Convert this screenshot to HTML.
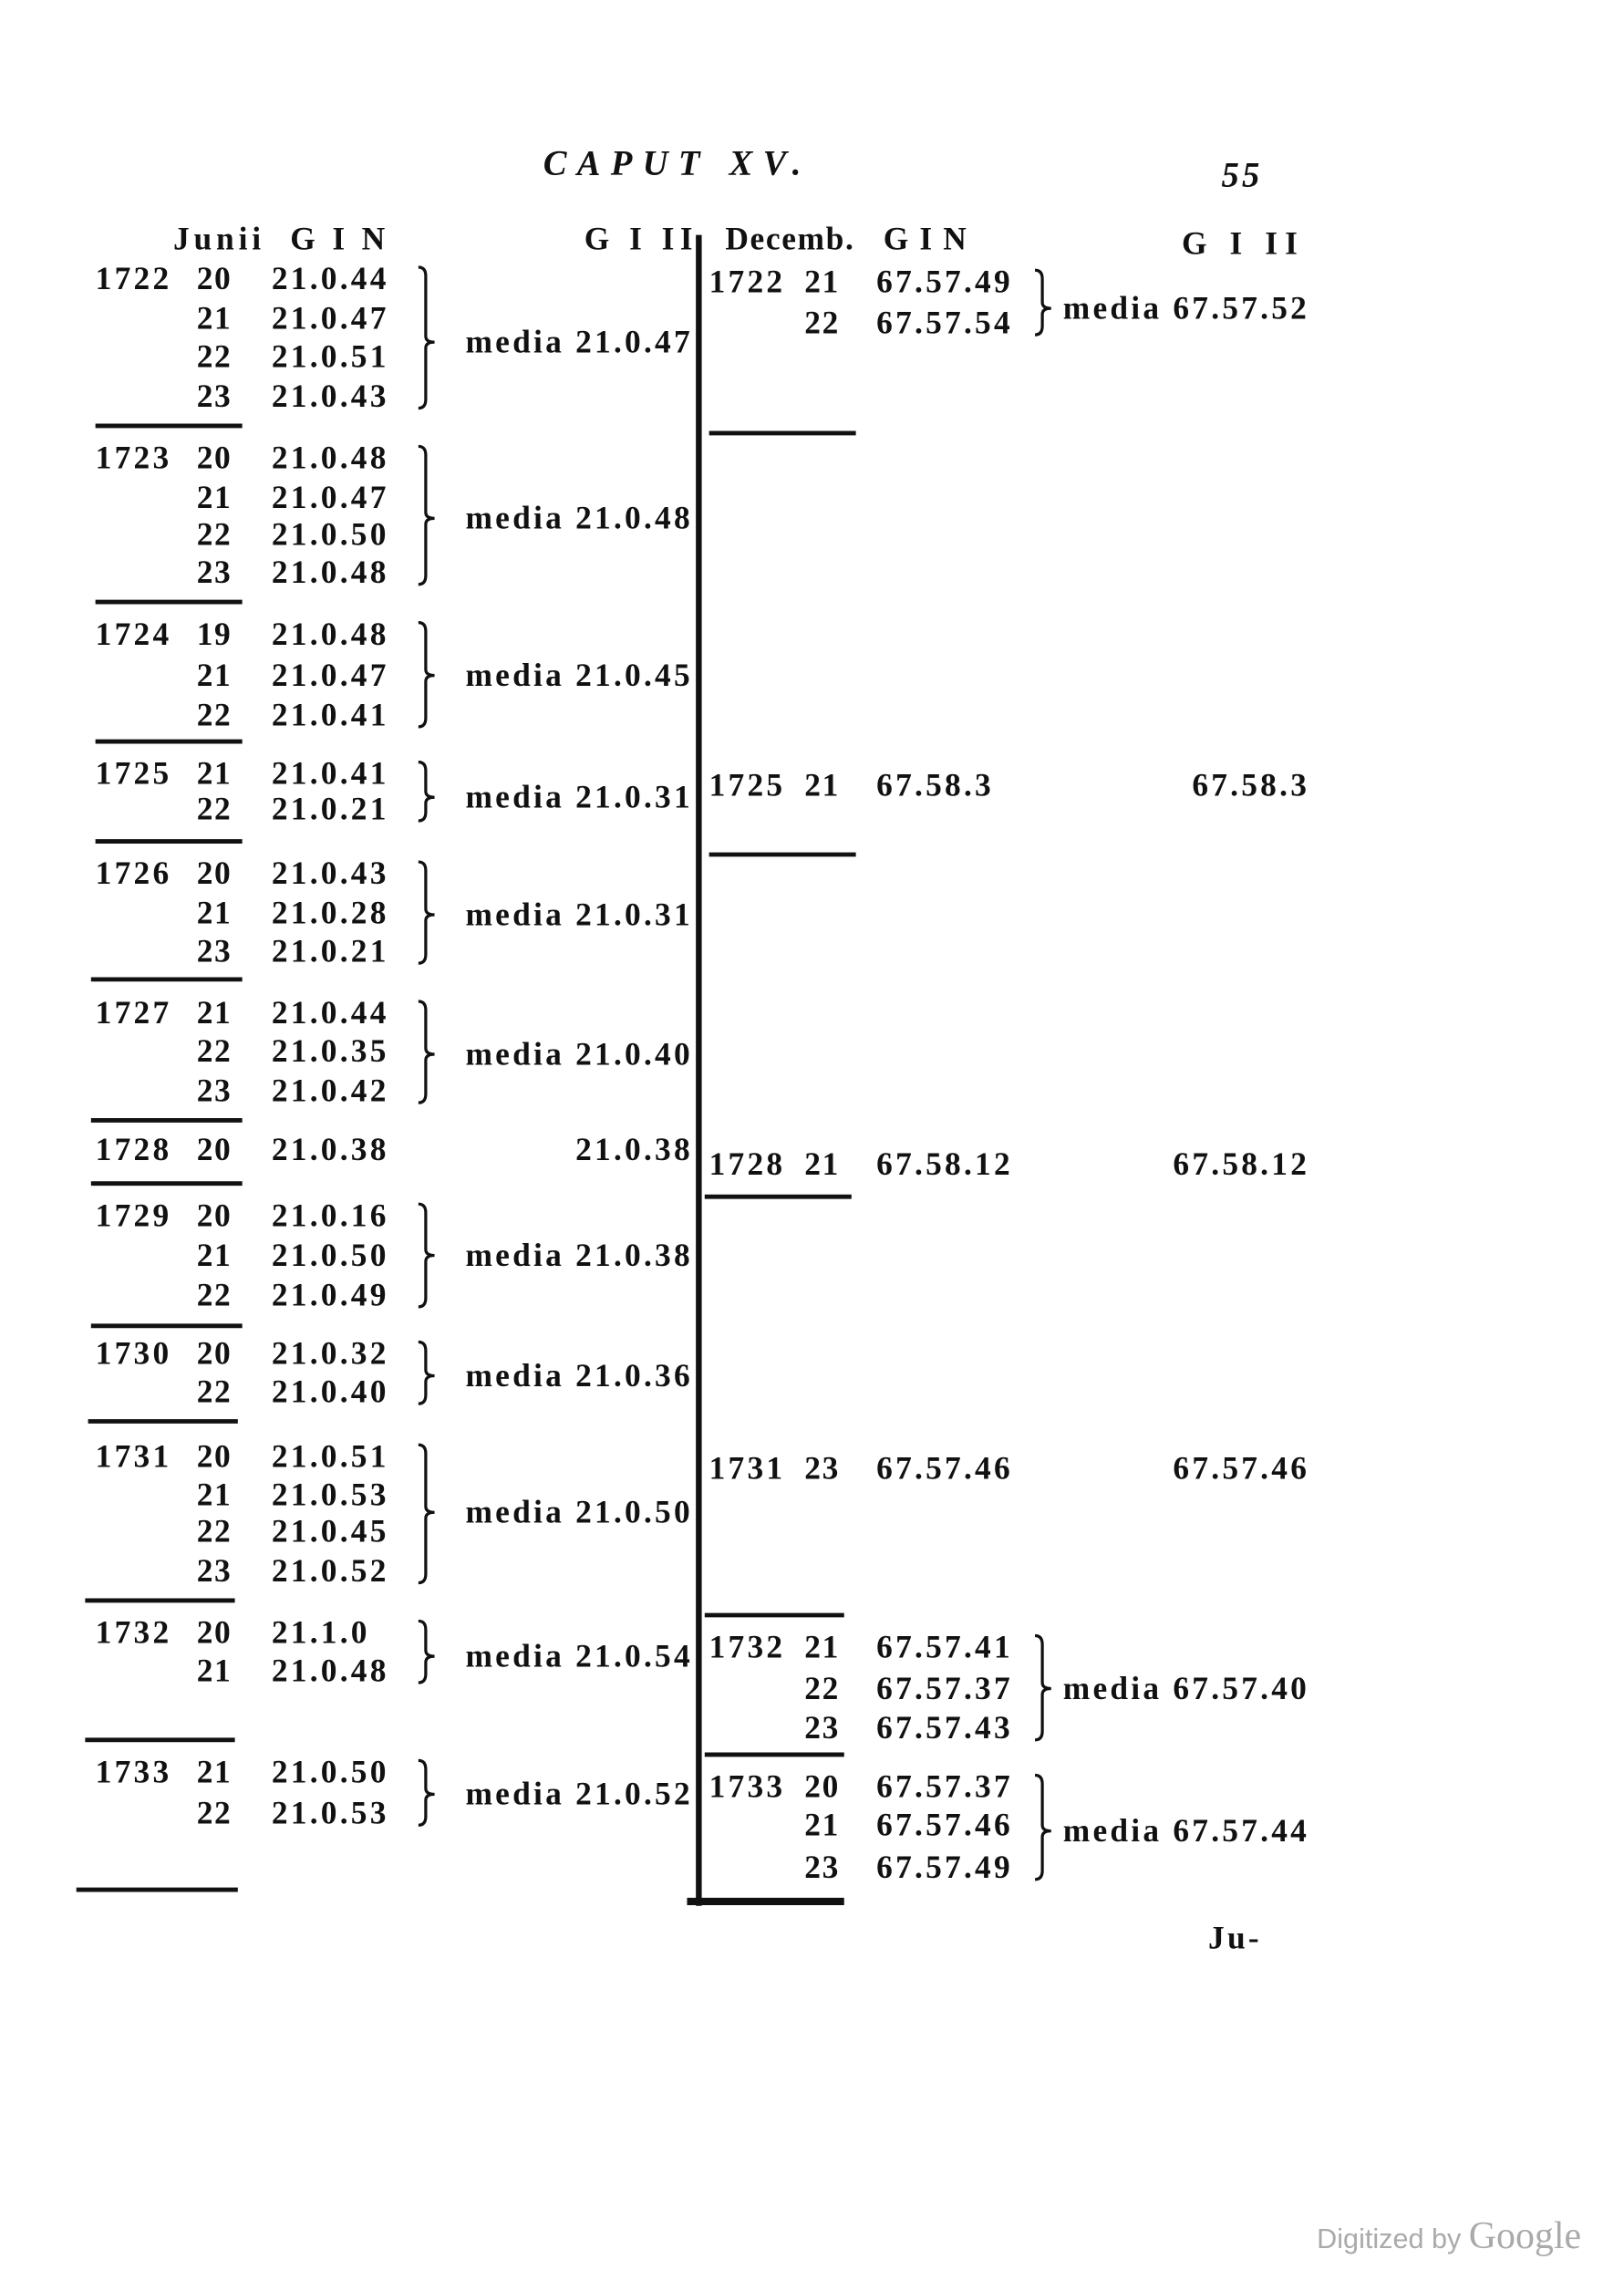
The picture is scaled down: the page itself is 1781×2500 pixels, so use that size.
<!DOCTYPE html>
<html><head><meta charset="utf-8"><style>
html,body{margin:0;padding:0;background:#fff;}
body{width:1781px;height:2500px;overflow:hidden;position:relative;}
#c{position:absolute;left:0;top:0;width:1106px;height:1553px;transform:scale(1.61);transform-origin:0 0;font-family:"Liberation Serif",serif;color:#111;}
.t{position:absolute;font-size:22px;line-height:24px;white-space:nowrap;font-weight:bold;letter-spacing:2px;}
.r{text-align:right;}
svg{position:absolute;left:0;top:0;}
</style></head><body><div id="c">
<div class="t" style="left:370px;top:100px;font-style:italic;font-size:24px;letter-spacing:7px">CAPUT XV.</div>
<div class="t" style="left:832px;top:108px;font-style:italic;font-size:24px">55</div>

<div class="t" style="left:118px;top:151px;letter-spacing:3px">Junii&nbsp; G I N</div>
<div class="t" style="left:398px;top:151px;letter-spacing:4px">G I II</div>
<div class="t" style="left:494px;top:151px;letter-spacing:1px">Decemb.&nbsp;&nbsp; G I N</div>
<div class="t" style="left:805px;top:154px;letter-spacing:5px">G I II</div>

<div id="rows"></div>

<svg width="1106" height="1553" viewBox="0 0 1106 1553">
<g stroke="#111" fill="none">
<line x1="476" y1="160" x2="476" y2="1298" stroke-width="4"/>
<line x1="468" y1="1295" x2="575" y2="1295" stroke-width="5"/>
<g stroke-width="3">
<line x1="65" y1="290" x2="165" y2="290"/><line x1="65" y1="410" x2="165" y2="410"/>
<line x1="65" y1="505" x2="165" y2="505"/><line x1="65" y1="573" x2="165" y2="573"/>
<line x1="62" y1="667" x2="165" y2="667"/><line x1="62" y1="763" x2="165" y2="763"/>
<line x1="62" y1="806" x2="165" y2="806"/><line x1="62" y1="903" x2="165" y2="903"/>
<line x1="60" y1="968" x2="162" y2="968"/><line x1="58" y1="1090" x2="160" y2="1090"/>
<line x1="58" y1="1185" x2="160" y2="1185"/><line x1="52" y1="1287" x2="162" y2="1287"/>
<line x1="483" y1="295" x2="583" y2="295"/><line x1="483" y1="582" x2="583" y2="582"/>
<line x1="480" y1="815" x2="580" y2="815"/><line x1="480" y1="1100" x2="575" y2="1100"/>
<line x1="480" y1="1195" x2="575" y2="1195"/>
</g>
<g stroke-width="2" id="br"></g>
</g></svg>

<div class="t" style="left:823px;top:1308px;font-size:22px">Ju-</div>
<div style="position:absolute;left:897px;top:1508px;font-family:'Liberation Sans',sans-serif;font-size:19px;color:#aaa">Digitized by <span style="font-size:26px;font-family:'Liberation Serif',serif">Google</span></div>
</div>
<script>
var L=[
[1722,[[20,"21.0.44",190],[21,"21.0.47",217],[22,"21.0.51",243],[23,"21.0.43",270]],"media 21.0.47",233],
[1723,[[20,"21.0.48",312],[21,"21.0.47",339],[22,"21.0.50",364],[23,"21.0.48",390]],"media 21.0.48",353],
[1724,[[19,"21.0.48",432],[21,"21.0.47",460],[22,"21.0.41",487]],"media 21.0.45",460],
[1725,[[21,"21.0.41",527],[22,"21.0.21",551]],"media 21.0.31",543],
[1726,[[20,"21.0.43",595],[21,"21.0.28",622],[23,"21.0.21",648]],"media 21.0.31",623],
[1727,[[21,"21.0.44",690],[22,"21.0.35",716],[23,"21.0.42",743]],"media 21.0.40",718],
[1728,[[20,"21.0.38",783]],"21.0.38",783],
[1729,[[20,"21.0.16",828],[21,"21.0.50",855],[22,"21.0.49",882]],"media 21.0.38",855],
[1730,[[20,"21.0.32",922],[22,"21.0.40",948]],"media 21.0.36",937],
[1731,[[20,"21.0.51",992],[21,"21.0.53",1018],[22,"21.0.45",1043],[23,"21.0.52",1070]],"media 21.0.50",1030],
[1732,[[20,"21.1.0",1112],[21,"21.0.48",1138]],"media 21.0.54",1128],
[1733,[[21,"21.0.50",1207],[22,"21.0.53",1235]],"media 21.0.52",1222]];
var R=[
[1722,[[21,"67.57.49",192],[22,"67.57.54",220]],"media 67.57.52",210],
[1725,[[21,"67.58.3",535]],"67.58.3",535],
[1728,[[21,"67.58.12",793]],"67.58.12",793],
[1731,[[23,"67.57.46",1000]],"67.57.46",1000],
[1732,[[21,"67.57.41",1122],[22,"67.57.37",1150],[23,"67.57.43",1177]],"media 67.57.40",1150],
[1733,[[20,"67.57.37",1217],[21,"67.57.46",1243],[23,"67.57.49",1272]],"media 67.57.44",1247]];
var h="",b="";
function blk(D,yx,dx,vx,bx,mr){D.forEach(function(g){var rs=g[1];
h+='<div class="t" style="left:'+yx+'px;top:'+(rs[0][2]-12)+'px">'+g[0]+'</div>';
rs.forEach(function(r){h+='<div class="t r" style="left:'+(dx-40)+'px;width:40px;top:'+(r[2]-12)+'px;letter-spacing:1px">'+r[0]+'</div>';
h+='<div class="t" style="left:'+vx+'px;top:'+(r[2]-12)+'px">'+r[1]+'</div>';});
h+='<div class="t r" style="left:'+(mr-300)+'px;width:300px;top:'+(g[3]-12)+'px">'+g[2]+'</div>';
if(rs.length>1){var y1=rs[0][2]-8,y2=rs[rs.length-1][2]+8,ym=g[3],x=bx;
b+='<path d="M'+x+' '+y1+' Q'+(x+5)+' '+y1+' '+(x+5)+' '+(y1+6)+' L'+(x+5)+' '+(ym-4)+' Q'+(x+5)+' '+ym+' '+(x+11)+' '+ym+' Q'+(x+5)+' '+ym+' '+(x+5)+' '+(ym+4)+' L'+(x+5)+' '+(y2-6)+' Q'+(x+5)+' '+y2+' '+x+' '+y2+'"/>';}});}
blk(L,65,158,185,285,472);
blk(R,483,572,597,705,892);
document.getElementById('rows').outerHTML=h;
document.getElementById('br').innerHTML=b;
</script>
</body></html>
